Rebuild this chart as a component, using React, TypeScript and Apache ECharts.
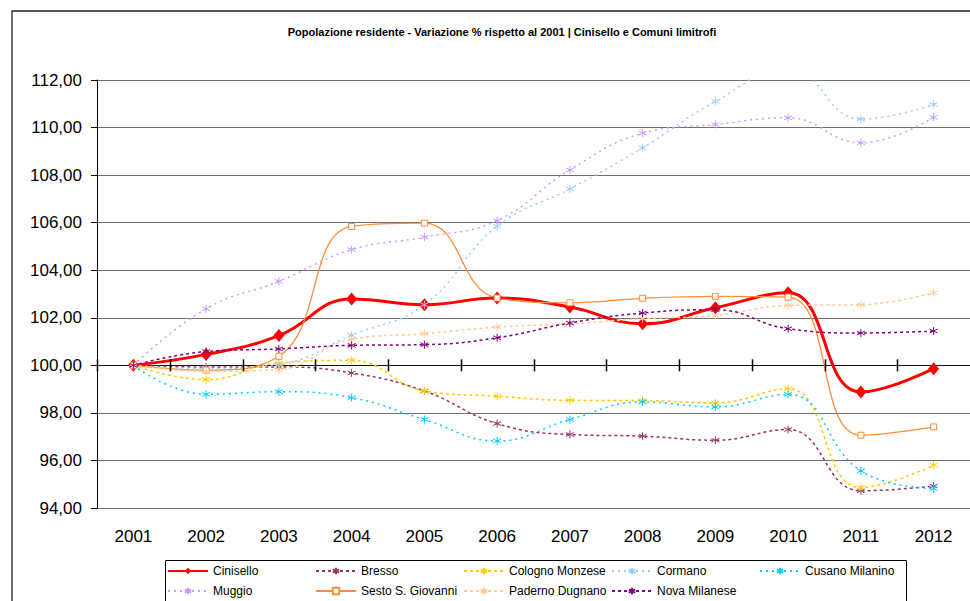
import { useEffect, useRef } from 'react';
import * as echarts from 'echarts';

const years = ['2001', '2002', '2003', '2004', '2005', '2006', '2007', '2008', '2009', '2010', '2011', '2012'];

const cinisello = [100, 100.46, 101.25, 102.79, 102.55, 102.83, 102.45, 101.75, 102.42, 103.05, 98.88, 99.86];
const bresso = [100, 99.93, 99.93, 99.68, 98.92, 97.55, 97.09, 97.02, 96.85, 97.3, 94.72, 94.92];
const cologno = [100, 99.4, 100.1, 100.21, 98.92, 98.7, 98.53, 98.52, 98.42, 99.02, 94.86, 95.8];
const cormano = [100, 99.87, 100.04, 101.27, 102.55, 105.85, 107.42, 109.15, 111.1, 112.5, 110.36, 110.97];
const cusano = [100, 98.78, 98.89, 98.64, 97.72, 96.82, 97.72, 98.46, 98.25, 98.78, 95.56, 94.82];
const muggio = [100, 102.38, 103.53, 104.87, 105.39, 106.09, 108.22, 109.76, 110.13, 110.41, 109.36, 110.43];
const sesto = [100, 99.8, 100.38, 105.84, 105.98, 102.83, 102.63, 102.82, 102.9, 102.87, 97.06, 97.41];
const paderno = [100, 99.75, 99.82, 101.1, 101.33, 101.61, 101.75, 101.96, 102.1, 102.52, 102.55, 103.05];
const nova = [100, 100.58, 100.69, 100.84, 100.87, 101.16, 101.78, 102.2, 102.34, 101.54, 101.36, 101.44];

const legendRows = [
  ['Cinisello', 'Bresso', 'Cologno Monzese', 'Cormano', 'Cusano Milanino'],
  ['Muggio', 'Sesto S. Giovanni', 'Paderno Dugnano', 'Nova Milanese'],
];

const Y_MIN = 94;
const Y_MAX = 112;
const Y_STEP = 2;
const BASE = 100; // the category axis crosses the value axis here

const FONT = '"Liberation Sans", Arial, sans-serif';
const STAR = 'path://M5,0L5,10M0.7,2.5L9.3,7.5M0.7,7.5L9.3,2.5';
const SMOOTH = 0.45;

function dotted(name: string, data: number[], color: string, dash: number[]) {
  return {
    type: 'line',
    name,
    data,
    smooth: SMOOTH,
    symbol: STAR,
    symbolSize: 8,
    lineStyle: { color, width: 1.5, type: dash },
    itemStyle: { color, borderColor: color, borderWidth: 1 },
  };
}

export default function App() {
  const ref = useRef<HTMLDivElement>(null);
  useEffect(() => {
    const chart = echarts.init(ref.current!, null, { renderer: 'svg' });
    const legends: any[] = [];
    legendRows.forEach((row, r) => {
      row.forEach((name, c) => {
        legends.push({
          data: [name],
          orient: 'horizontal',
          left: 167 + c * 148,
          top: 565 + r * 20,
          itemWidth: 40,
          itemHeight: 8,
          itemGap: 4,
          padding: 0,
          selectedMode: false,
          textStyle: { fontSize: 12, color: '#000', fontFamily: FONT },
        });
      });
    });
    const gridColors: string[] = [];
    for (let v = Y_MIN; v <= Y_MAX; v += Y_STEP) gridColors.push(v === BASE ? '#111' : '#707070');

    const option = {
      animation: false,
      backgroundColor: '#fff',
      title: {
        text: 'Popolazione residente - Variazione % rispetto al 2001 | Cinisello e Comuni limitrofi',
        left: 497,
        textAlign: 'center',
        top: 21,
        textStyle: { fontSize: 11, fontWeight: 'bold', color: '#000', fontFamily: FONT },
      },
      grid: { left: 97, right: 0, top: 80, bottom: 93, containLabel: false },
      graphic: [
        {
          type: 'rect',
          shape: { x: 12, y: 11, width: 1100, height: 800 },
          style: { fill: 'none', stroke: '#222', lineWidth: 1.3 },
          silent: true,
        },
        {
          type: 'rect',
          shape: { x: 165.5, y: 560.5, width: 741, height: 70 },
          style: { fill: 'none', stroke: '#000', lineWidth: 1 },
          silent: true,
        },
      ],
      legend: legends,
      xAxis: {
        type: 'category',
        data: years,
        boundaryGap: true,
        axisLine: { show: false, onZero: false },
        axisTick: { show: false },
        axisLabel: { fontSize: 17, color: '#000', margin: 20, fontFamily: FONT },
        splitLine: { show: false },
      },
      yAxis: {
        type: 'value',
        min: Y_MIN,
        max: Y_MAX,
        interval: Y_STEP,
        axisLine: { show: true, onZero: false, lineStyle: { color: '#000', width: 1 } },
        axisTick: { show: true, length: 6, lineStyle: { color: '#000' } },
        axisLabel: {
          fontSize: 17,
          color: '#000',
          margin: 15,
          fontFamily: FONT,
          formatter: (v: number) => v.toFixed(2).replace('.', ','),
        },
        splitLine: { show: true, lineStyle: { color: gridColors, width: 1.2 } },
      },
      series: [
        {
          type: 'line',
          name: 'Cinisello',
          data: cinisello,
          smooth: SMOOTH,
          symbol: 'diamond',
          symbolSize: [11, 13],
          lineStyle: { color: '#FF0000', width: 3 },
          itemStyle: { color: '#FF0000' },
        },
        dotted('Bresso', bresso, '#993366', [3, 3]),
        dotted('Cologno Monzese', cologno, '#FFCC00', [3, 3]),
        dotted('Cormano', cormano, '#99CCFF', [2, 4]),
        dotted('Cusano Milanino', cusano, '#00CCFF', [2, 4]),
        dotted('Muggio', muggio, '#CC99FF', [2, 4]),
        {
          type: 'line',
          name: 'Sesto S. Giovanni',
          data: sesto,
          smooth: SMOOTH,
          symbol: 'rect',
          symbolSize: 6,
          lineStyle: { color: '#FF8C3A', width: 1.3 },
          itemStyle: { color: '#fff', borderColor: '#FF8C3A', borderWidth: 1 },
        },
        dotted('Paderno Dugnano', paderno, '#FFCC99', [3, 3]),
        dotted('Nova Milanese', nova, '#800080', [3, 3]),
        {
          // category-boundary tick marks crossing the value axis at BASE
          type: 'custom',
          name: 'ticks',
          silent: true,
          clip: false,
          z: 10,
          encode: { x: 0, y: 1 },
          data: years.map((_, i) => [i, BASE]),
          renderItem: (_params: any, api: any) => {
            const i = api.value(0);
            const p = api.coord([i, BASE]);
            const w = api.size([1, 0])[0];
            const x = Math.round(p[0] - w / 2) + 0.5;
            return {
              type: 'line',
              shape: { x1: x, y1: p[1] - 6, x2: x, y2: p[1] + 6 },
              style: { stroke: '#000', lineWidth: 1.5 },
            };
          },
        },
      ],
    };
    chart.setOption(option as any);
    return () => chart.dispose();
  }, []);
  return (
    <div
      ref={ref}
      style={{ position: 'fixed', left: 0, top: 0, width: 970, height: 601, background: '#fff' }}
    />
  );
}
